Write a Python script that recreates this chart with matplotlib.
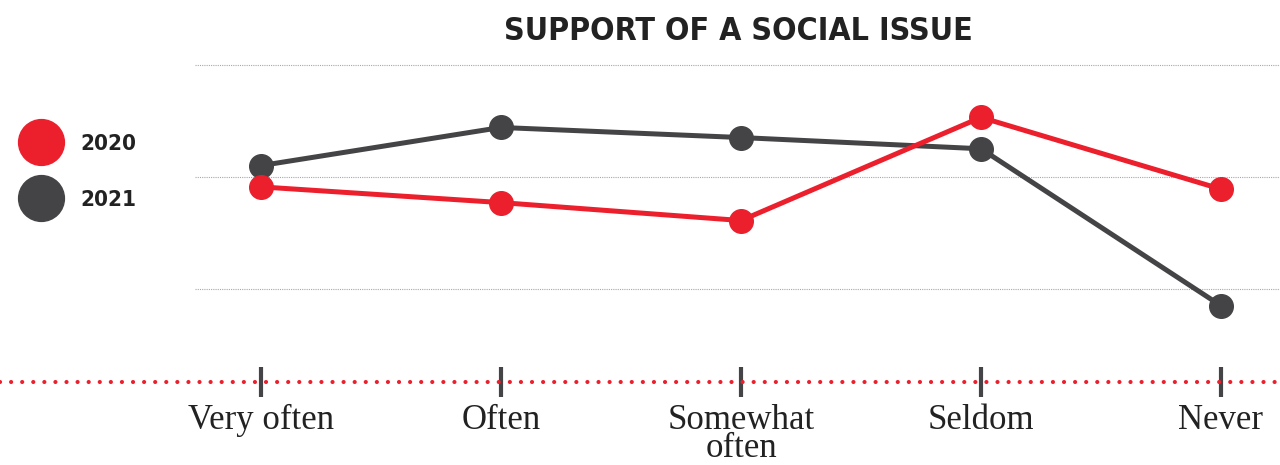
import matplotlib
matplotlib.use("Agg")
import matplotlib.pyplot as plt
from matplotlib.lines import Line2D

categories = ["Very often", "Often", "Somewhat\noften", "Seldom", "Never"]
series_2020 = [19.1, 17.7, 16.1, 25.3, 18.9]
series_2021 = [21.0, 24.4, 23.5, 22.5, 8.5]
grid_values = [10, 20, 30]
legend_labels = ["2020", "2021"]

RED = "#EC1F2D"
GRAY = "#444446"

W, H = 1280, 465
fig = plt.figure(figsize=(W / 100, H / 100), dpi=100)
ax = fig.add_axes([0, (H - 382) / H, 1, (382 - 40) / H])

x = list(range(len(categories)))
ax.set_xlim(-261 / 240, (1280 - 261) / 240)
ax.set_ylim(1.7, 32.2)

for g in grid_values:
    ax.hlines(g, -66 / 240, (1280 - 261) / 240, colors="#a8a8a8", linewidth=0.8,
              linestyles=(0, (1, 1)), zorder=1)

ax.plot(x, series_2021, color=GRAY, lw=3.6, marker="o", ms=17, zorder=3,
        solid_capstyle="round")
ax.plot(x, series_2020, color=RED, lw=3.6, marker="o", ms=17, zorder=4,
        solid_capstyle="round")

ax.axhline(1.7, color=RED, lw=3.0, dashes=(0.01, 2.65), dash_capstyle="round",
           zorder=2, clip_on=False)

for s in ["top", "right", "left", "bottom"]:
    ax.spines[s].set_visible(False)
ax.set_yticks([])
ax.set_xticks(x)
ax.set_xticklabels(categories, fontsize=25, family="Liberation Serif",
                   color="#222222", linespacing=0.78)
ax.tick_params(axis="x", direction="inout", length=22, width=3, color=GRAY, pad=5)

title_font = ["DejaVu Sans"]
fig.text(738 / W, 1 - 31 / H, "SUPPORT OF A SOCIAL ISSUE", ha="center", va="center",
         fontsize=23, fontweight="bold", fontstretch="condensed", family=title_font,
         color="#222222")

for lab, col, yy in zip(legend_labels, [RED, GRAY], [142, 198]):
    fig.add_artist(Line2D([41 / W], [1 - yy / H], transform=fig.transFigure,
                          marker="o", ms=33, color=col, linestyle="none"))
    fig.text(80 / W, 1 - (yy + 2) / H, lab, ha="left", va="center", fontsize=16,
             fontweight="bold", fontstretch="condensed", family=title_font,
             color="#222222")

fig.savefig("out.png", dpi=100)
